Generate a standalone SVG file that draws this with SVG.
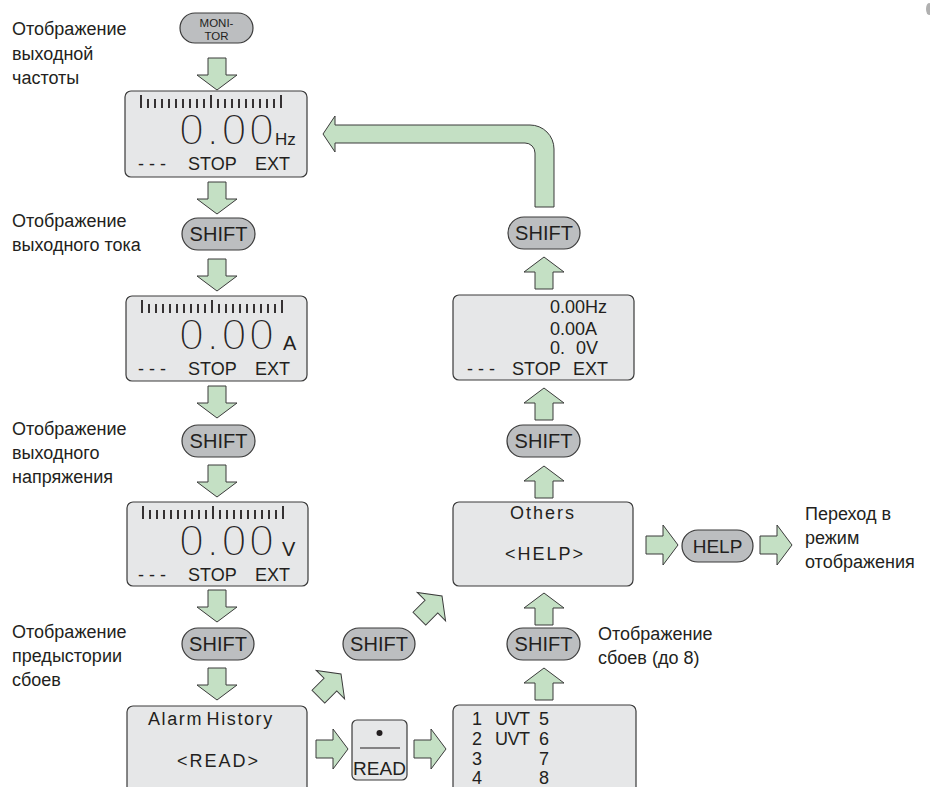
<svg xmlns="http://www.w3.org/2000/svg" width="930" height="787" viewBox="0 0 930 787">
<style>
.box{fill:#e6e7e8;stroke:#3a3a3a;stroke-width:1.2}
.btn{fill:#bcbec0;stroke:#3a3a3a;stroke-width:1.2}
.arr{fill:#c4e0c4;stroke:#3a3a3a;stroke-width:1}
text{font-family:"Liberation Sans",Arial,sans-serif;fill:#231f20}
.lbl{font-size:18px}
.btxt{font-size:20px;text-anchor:middle}
.lcd{font-size:18px}
.big{font-size:45px;letter-spacing:2.5px;stroke:#e6e7e8;stroke-width:2}
.tick{stroke:#231f20;stroke-width:1.8;fill:none}
</style>
<defs>
<path id="arw" d="M-32,-9 H-15 V-20 L0,0 L-15,20 V9 H-32 Z"/>
<path id="ticks" d="M16,4V17M23,8V17M30,8V17M37,8V17M44,8V17M51,8V17M58,8V17M65,8V17M72,8V17M79,8V17M86,4V17M93,8V17M100,8V17M107,8V17M114,8V17M121,8V17M128,8V17M135,8V17M142,8V17M149,8V17M156,4V17"/>
</defs>

<g id="labels">
<text class="lbl" x="12" y="35">Отображение</text>
<text class="lbl" x="12" y="60">выходной</text>
<text class="lbl" x="12" y="84">частоты</text>
<text class="lbl" x="12" y="227">Отображение</text>
<text class="lbl" x="12" y="251">выходного тока</text>
<text class="lbl" x="12" y="435">Отображение</text>
<text class="lbl" x="12" y="459">выходного</text>
<text class="lbl" x="12" y="483">напряжения</text>
<text class="lbl" x="12" y="638">Отображение</text>
<text class="lbl" x="12" y="662">предыстории</text>
<text class="lbl" x="12" y="686">сбоев</text>
<text class="lbl" x="598" y="640">Отображение</text>
<text class="lbl" x="598" y="664">сбоев (до 8)</text>
<text class="lbl" x="805" y="520">Переход в</text>
<text class="lbl" x="805" y="544">режим</text>
<text class="lbl" x="805" y="568">отображения</text>
</g>

<g id="connectors">
<use href="#arw" class="arr" transform="translate(217,90) rotate(90)"/>
<use href="#arw" class="arr" transform="translate(217,214) rotate(90)"/>
<use href="#arw" class="arr" transform="translate(217,291) rotate(90)"/>
<use href="#arw" class="arr" transform="translate(217,418) rotate(90)"/>
<use href="#arw" class="arr" transform="translate(217,497) rotate(90)"/>
<use href="#arw" class="arr" transform="translate(217,622) rotate(90)"/>
<use href="#arw" class="arr" transform="translate(217,700) rotate(90)"/>
<use href="#arw" class="arr" transform="translate(544,257) rotate(-90)"/>
<use href="#arw" class="arr" transform="translate(544,388) rotate(-90)"/>
<use href="#arw" class="arr" transform="translate(544,466) rotate(-90)"/>
<use href="#arw" class="arr" transform="translate(544,593) rotate(-90)"/>
<use href="#arw" class="arr" transform="translate(544,668) rotate(-90)"/>
<use href="#arw" class="arr" transform="translate(348,749)"/>
<use href="#arw" class="arr" transform="translate(446,749)"/>
<use href="#arw" class="arr" transform="translate(678,545)"/>
<use href="#arw" class="arr" transform="translate(792,545)"/>
<use href="#arw" class="arr" transform="translate(341,674) rotate(-45)"/>
<use href="#arw" class="arr" transform="translate(442,596) rotate(-45)"/>
<path class="arr" d="M554,207 V149 A24,24 0 0 0 530,125 H335 V116 L323,134 L335,152 V143 H525 A10,10 0 0 1 535,153 V207 Z"/>
</g>

<g id="monitor">
<rect class="btn" x="180" y="13" width="73" height="30" rx="15"/>
<text x="216.5" y="27" font-size="11.5" text-anchor="middle">MONI-</text>
<text x="216.5" y="39.5" font-size="11.5" text-anchor="middle">TOR</text>
</g>

<g id="lcd1" transform="translate(125,91)">
<rect class="box" width="182" height="86" rx="6"/>
<use href="#ticks" class="tick"/>
<text class="big" x="54" y="54">0.00</text>
<text x="150" y="54" font-size="17">Hz</text>
<text class="lcd" x="13" y="79">- - -</text>
<text class="lcd" x="63" y="79">STOP</text>
<text class="lcd" x="130" y="79">EXT</text>
</g>

<g id="shift1">
<rect class="btn" x="182" y="218" width="73" height="32" rx="16"/>
<text class="btxt" x="218.5" y="241">SHIFT</text>
</g>

<g id="lcd2" transform="translate(126,296)">
<rect class="box" width="181" height="85" rx="6"/>
<use href="#ticks" class="tick"/>
<text class="big" x="53" y="54">0.00</text>
<text x="157" y="54" font-size="20">A</text>
<text class="lcd" x="12" y="79">- - -</text>
<text class="lcd" x="62" y="79">STOP</text>
<text class="lcd" x="129" y="79">EXT</text>
</g>

<g id="shift2">
<rect class="btn" x="182" y="425" width="73" height="32" rx="16"/>
<text class="btxt" x="218.5" y="448">SHIFT</text>
</g>

<g id="lcd3" transform="translate(127,502)">
<rect class="box" width="181" height="84" rx="6"/>
<use href="#ticks" class="tick"/>
<text class="big" x="52" y="54">0.00</text>
<text x="155" y="54" font-size="20">V</text>
<text class="lcd" x="11" y="79">- - -</text>
<text class="lcd" x="61" y="79">STOP</text>
<text class="lcd" x="128" y="79">EXT</text>
</g>

<g id="shift3">
<rect class="btn" x="182" y="628" width="72" height="32" rx="16"/>
<text class="btxt" x="218" y="651">SHIFT</text>
</g>

<g id="alarm">
<rect class="box" x="127" y="706" width="180" height="100" rx="6"/>
<text x="148" y="725" font-size="18" letter-spacing="1.6" word-spacing="-3">Alarm History</text>
<text x="177" y="767" font-size="18" letter-spacing="2">&lt;READ&gt;</text>
</g>

<g id="readkey">
<rect class="box" x="352" y="720" width="55" height="60" rx="5"/>
<circle cx="379.5" cy="733" r="3" fill="#231f20"/>
<line x1="360" y1="748" x2="400" y2="748" stroke="#231f20" stroke-width="1"/>
<text x="379.5" y="775" font-size="19" text-anchor="middle">READ</text>
</g>

<g id="shiftmid">
<rect class="btn" x="343" y="628" width="72" height="32" rx="16"/>
<text class="btxt" x="379" y="651">SHIFT</text>
</g>

<g id="faults">
<rect class="box" x="453" y="705" width="183" height="100" rx="6"/>
<text class="lcd" x="472" y="725">1</text><text class="lcd" x="495" y="725" letter-spacing="-0.5">UVT</text><text class="lcd" x="539" y="725">5</text>
<text class="lcd" x="472" y="745">2</text><text class="lcd" x="495" y="745" letter-spacing="-0.5">UVT</text><text class="lcd" x="539" y="745">6</text>
<text class="lcd" x="472" y="765">3</text><text class="lcd" x="539" y="765">7</text>
<text class="lcd" x="472" y="784">4</text><text class="lcd" x="539" y="784">8</text>
</g>

<g id="shiftr3">
<rect class="btn" x="507" y="628" width="73" height="32" rx="16"/>
<text class="btxt" x="543.5" y="651">SHIFT</text>
</g>

<g id="others">
<rect class="box" x="453" y="502" width="180" height="84" rx="6"/>
<text x="543" y="519" font-size="18" letter-spacing="2" text-anchor="middle">Others</text>
<text x="545" y="560" font-size="18" letter-spacing="2" text-anchor="middle">&lt;HELP&gt;</text>
</g>

<g id="help">
<rect class="btn" x="682" y="530" width="71" height="32" rx="16"/>
<text x="717.5" y="553" font-size="19" text-anchor="middle">HELP</text>
</g>

<g id="shiftr2">
<rect class="btn" x="507" y="425" width="73" height="32" rx="16"/>
<text class="btxt" x="543.5" y="448">SHIFT</text>
</g>

<g id="lcd4">
<rect class="box" x="453" y="295" width="181" height="85" rx="6"/>
<text class="lcd" x="550" y="313">0.00Hz</text>
<text class="lcd" x="550" y="335">0.00A</text>
<text class="lcd" x="550" y="354">0.</text><text class="lcd" x="576" y="354">0V</text>
<text class="lcd" x="467" y="375">- - -</text>
<text class="lcd" x="512" y="375">STOP</text>
<text class="lcd" x="573" y="375">EXT</text>
</g>

<g id="shiftr1">
<rect class="btn" x="508" y="217" width="72" height="32" rx="16"/>
<text class="btxt" x="544" y="240">SHIFT</text>
</g>

<ellipse cx="929" cy="9" rx="3" ry="6" fill="#b0b0b0"/>
</svg>
